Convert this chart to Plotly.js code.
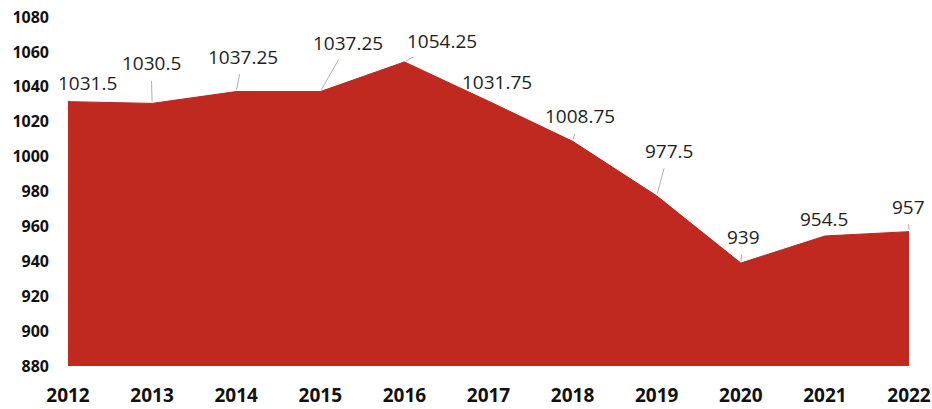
<!DOCTYPE html>
<html>
<head>
<meta charset="utf-8">
<script src="https://cdn.plot.ly/plotly-3.0.1.min.js"></script>
<style>
html,body{margin:0;padding:0;background:#fff;}
#chart{width:932px;height:409px;}
</style>
</head>
<body>
<div id="chart"></div>
<script>
const years = [2012, 2013, 2014, 2015, 2016, 2017, 2018, 2019, 2020, 2021, 2022];
const values = [1031.5, 1030.5, 1037.25, 1037.25, 1054.25, 1031.75, 1008.75, 977.5, 939, 954.5, 957];
const valueLabels = ["1031.5", "1030.5", "1037.25", "1037.25", "1054.25", "1031.75", "1008.75", "977.5", "939", "954.5", "957"];
const yTicks = [880, 900, 920, 940, 960, 980, 1000, 1020, 1040, 1060, 1080];

// label offsets in pixels (text centre relative to point) and whether a leader line is drawn
const labelDx = [19, -1, 7, 28, 38, 8, 7, 12, 3, -1, -1];
const labelDy = [-19, -40, -35, -49, -21, -19, -25, -45, -26, -17, -25];
const leader = [true, true, true, true, true, false, true, true, true, false, true];

const fillColor = '#c0291f';

const trace = {
  x: years,
  y: values,
  type: 'scatter',
  mode: 'lines',
  fill: 'tozeroy',
  fillcolor: fillColor,
  line: {color: '#b8251c', width: 1},
  hoverinfo: 'skip'
};

const annotations = years.map((yr, i) => ({
  x: yr,
  y: values[i],
  xref: 'x',
  yref: 'y',
  text: valueLabels[i],
  showarrow: true,
  arrowhead: 0,
  arrowwidth: 0.8,
  arrowcolor: leader[i] ? '#9a9a9a' : 'rgba(0,0,0,0)',
  ax: labelDx[i],
  ay: labelDy[i],
  standoff: 2,
  startstandoff: 3,
  font: {family: 'Open Sans, sans-serif', size: 19, color: '#1e1e1e'}
}));

const layout = {
  width: 932,
  height: 409,
  margin: {l: 68, r: 23, t: 17, b: 43},
  paper_bgcolor: '#ffffff',
  plot_bgcolor: '#ffffff',
  showlegend: false,
  xaxis: {
    range: [2012, 2022],
    tickmode: 'array',
    tickvals: years,
    ticktext: years.map(String),
    showgrid: false,
    zeroline: false,
    showline: false,
    ticks: '',
    ticklabelstandoff: 16,
    tickfont: {family: 'Open Sans, sans-serif', size: 19, color: '#111111', weight: 'bold'}
  },
  yaxis: {
    range: [880, 1080],
    tickmode: 'array',
    tickvals: yTicks,
    ticktext: yTicks.map(String),
    showgrid: false,
    zeroline: false,
    showline: false,
    ticks: '',
    ticklabelstandoff: 18,
    tickfont: {family: 'Open Sans, sans-serif', size: 16, color: '#111111', weight: 'bold'}
  },
  annotations: annotations
};

Plotly.newPlot('chart', [trace], layout, {staticPlot: true, displayModeBar: false});
</script>
</body>
</html>
